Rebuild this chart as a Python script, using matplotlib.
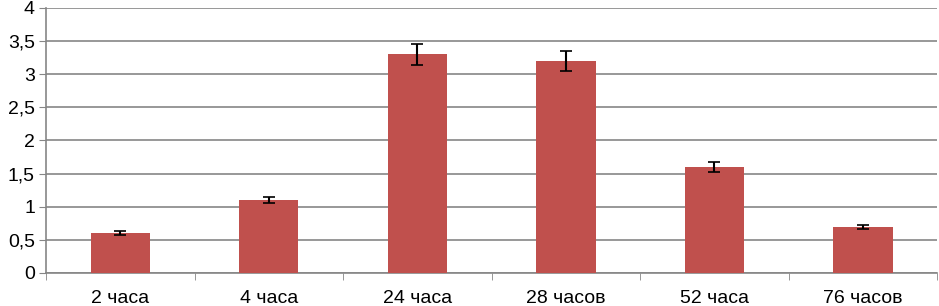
import numpy as np
import matplotlib
matplotlib.use("Agg")
import matplotlib.pyplot as plt
from matplotlib.ticker import FuncFormatter

labels = ["2 часа", "4 часа", "24 часа", "28 часов", "52 часа", "76 часов"]
values = [0.6, 1.1, 3.3, 3.2, 1.6, 0.7]
errors = [0.03, 0.05, 0.16, 0.15, 0.08, 0.03]

plt.rcParams['font.family'] = ['Liberation Sans', 'DejaVu Sans']

fig = plt.figure(figsize=(9.39, 3.06), dpi=100)
ax = fig.add_axes([0.049, 0.108, 0.949, 0.866])

x = np.arange(len(labels))
ax.bar(x, values, width=0.4, color='#C0504D', zorder=3,
       yerr=errors, error_kw=dict(ecolor='black', elinewidth=1.5, capsize=4, capthick=1.2))

ax.set_xlim(-0.5, len(labels) - 0.5)
ax.set_ylim(0, 4)
ax.set_yticks(np.arange(0, 4.01, 0.5))
ax.yaxis.set_major_formatter(FuncFormatter(lambda v, p: ('%g' % v).replace('.', ',')))
ax.grid(axis='y', color='#868686', linewidth=1.2, zorder=0)

ax.set_xticks(x)
ax.set_xticklabels(labels)
ax.set_xticks(np.arange(-0.5, len(labels), 1.0), minor=True)
ax.tick_params(axis='x', which='major', length=0, labelsize=14, pad=12)
ax.tick_params(axis='x', which='minor', length=5, color='#868686', direction='out')
ax.tick_params(axis='y', length=5, color='#868686', labelsize=14, pad=3)

for s in ['top', 'right']:
    ax.spines[s].set_visible(False)
for s in ['left', 'bottom']:
    ax.spines[s].set_color('#868686')
    ax.spines[s].set_linewidth(1.2)

fig.savefig("out.png", dpi=100)
